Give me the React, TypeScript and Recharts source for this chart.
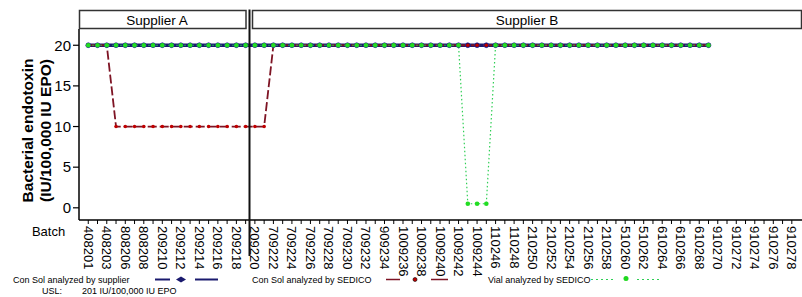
import { LineChart, Line, XAxis, YAxis } from 'recharts';

// batch ids along the x axis (one tick per batch, every 2nd labelled)
const batches = [
  '408201', '408202', '408203', '408204', '808206', '808207', '808208', '808209',
  '209210', '209211', '209212', '209213', '209214', '209215', '209216', '209217',
  '209218', '209219', '209220', '209221', '709222', '709223', '709224', '709225',
  '709226', '709227', '709228', '709229', '709230', '709231', '709232', '709233',
  '909234', '909235', '1009236', '1009237', '1009238', '1009239', '1009240', '1009241',
  '1009242', '1009243', '1009244', '1009245', '110246', '110247', '110248', '110249',
  '210250', '210251', '210252', '210253', '210254', '210255', '210256', '210257',
  '210258', '210259', '510260', '510261', '510262', '510263', '610264', '610265',
  '610266', '610267', '610268', '610269', '910270', '910271', '910272', '910273',
  '910274', '910275', '910276', '910277', '910278',
];

// Con Sol analyzed by supplier
const supplierValues = [
  20, 20, 20, 20, 20, 20, 20, 20, 20, 20,
  20, 20, 20, 20, 20, 20, 20, 20, 20, 20,
  20, 20, 20, 20, 20, 20, 20, 20, 20, 20,
  20, 20, 20, 20, 20, 20, 20, 20, 20, 20,
  20, 20, 20, 20, 20, 20, 20, 20, 20, 20,
  20, 20, 20, 20, 20, 20, 20, 20, 20, 20,
  20, 20, 20, 20, 20, 20, 20, 20,
];

// Con Sol analyzed by SEDICO
const sedicoValues = [
  20, 20, 20, 10, 10, 10, 10, 10, 10, 10,
  10, 10, 10, 10, 10, 10, 10, 10, 10, 10,
  20, 20, 20, 20, 20, 20, 20, 20, 20, 20,
  20, 20, 20, 20, 20, 20, 20, 20, 20, 20,
  20, 20, 20, 20, 20, 20, 20, 20, 20, 20,
  20, 20, 20, 20, 20, 20, 20, 20, 20, 20,
  20, 20, 20, 20, 20, 20, 20, 20,
];

// Vial analyzed by SEDICO
const vialValues = [
  20, 20, 20, 20, 20, 20, 20, 20, 20, 20,
  20, 20, 20, 20, 20, 20, 20, 20, 20, 20,
  20, 20, 20, 20, 20, 20, 20, 20, 20, 20,
  20, 20, 20, 20, 20, 20, 20, 20, 20, 20,
  20, 0.5, 0.5, 0.5, 20, 20, 20, 20, 20, 20,
  20, 20, 20, 20, 20, 20, 20, 20, 20, 20,
  20, 20, 20, 20, 20, 20, 20, 20,
];

const yTicks = [0, 5, 10, 15, 20];
const panels = ['Supplier A', 'Supplier B'];

const FONT = '"Liberation Sans", Arial, Helvetica, sans-serif';
const NAVY = '#1a1a6e';
const RED = '#7e1424';
const GREEN = '#2fcf55';

const data = batches.map((batch, i) => ({
  idx: i,
  batch,
  supplier: supplierValues[i] ?? null,
  sedico: sedicoValues[i] ?? null,
  vial: vialValues[i] ?? null,
}));

const xTicks = batches.map((_, i) => i);

function BatchTick({ x, y, payload }: any) {
  const i = payload.value;
  if (i % 2 !== 0) return <g />;
  return (
    <text
      x={x}
      y={y}
      transform={`rotate(90, ${x}, ${y})`}
      textAnchor="start"
      dominantBaseline="central"
      fontSize={13}
      fontFamily={FONT}
      fill="#000"
    >
      {batches[i]}
    </text>
  );
}

function Overlay() {
  return (
    <svg
      width={802}
      height={297}
      style={{ position: 'absolute', left: 0, top: 0, pointerEvents: 'none' }}
      fontFamily={FONT}
    >
      {/* strip headers */}
      <rect x={79.5} y={10.5} width={166.5} height={18} fill="#fff" stroke="#333" strokeWidth={1.5} />
      <rect x={252.5} y={10.5} width={549} height={18} fill="#fff" stroke="#333" strokeWidth={1.5} />
      <text x={157} y={20} textAnchor="middle" dominantBaseline="central" fontSize={13.5}>
        {panels[0]}
      </text>
      <text x={527} y={20} textAnchor="middle" dominantBaseline="central" fontSize={13.5}>
        {panels[1]}
      </text>
      {/* panel separator */}
      <line x1={249.5} x2={249.5} y1={9.5} y2={256} stroke="#111" strokeWidth={2} />

      {/* axis titles */}
      <text
        x={27}
        y={130.5}
        transform="rotate(-90, 27, 130.5)"
        textAnchor="middle"
        dominantBaseline="central"
        fontSize={15.5}
        fontWeight="bold"
      >
        Bacterial endotoxin
      </text>
      <text
        x={45}
        y={130.5}
        transform="rotate(-90, 45, 130.5)"
        textAnchor="middle"
        dominantBaseline="central"
        fontSize={15.5}
        fontWeight="bold"
      >
        (IU/100,000 IU EPO)
      </text>
      <text x={48.5} y={231} textAnchor="middle" dominantBaseline="central" fontSize={13}>
        Batch
      </text>

      {/* legend */}
      <g fontSize={9}>
        <text x={13} y={280} dominantBaseline="central">Con Sol analyzed by supplier</text>
        <line x1={155} x2={170} y1={279.5} y2={279.5} stroke={NAVY} strokeWidth={2} />
        <path d="M176,279.5 L181,276.5 L186,279.5 L181,282.5 Z" fill={NAVY} />
        <line x1={195} x2={218} y1={279.5} y2={279.5} stroke={NAVY} strokeWidth={2} />

        <text x={42} y={291} dominantBaseline="central">USL:</text>
        <text x={82} y={291} dominantBaseline="central">201 IU/100,000 IU EPO</text>

        <text x={252} y={280} dominantBaseline="central">Con Sol analyzed by SEDICO</text>
        <line x1={386} x2={400} y1={279.5} y2={279.5} stroke={RED} strokeWidth={1.5} />
        <circle cx={415} cy={279.5} r={2} fill="#c00000" stroke="#000" strokeWidth={0.6} />
        <line x1={431} x2={448} y1={279.5} y2={279.5} stroke={RED} strokeWidth={1.5} />

        <text x={488} y={280} dominantBaseline="central">Vial analyzed by SEDICO</text>
        <line x1={591} x2={613} y1={279.5} y2={279.5} stroke={GREEN} strokeWidth={1.2} strokeDasharray="2 3" />
        <circle cx={626} cy={278.5} r={2.5} fill="#1fd81f" />
        <line x1={637} x2={659} y1={279.5} y2={279.5} stroke={GREEN} strokeWidth={1.2} strokeDasharray="2 3" />
      </g>
    </svg>
  );
}

export default function App() {
  return (
    <div style={{ position: 'absolute', left: 0, top: 0, width: 802, height: 297, background: '#fff' }}>
      <LineChart
        width={802}
        height={297}
        data={data}
        margin={{ top: 29, right: 0, bottom: 17, left: 19 }}
      >
        <XAxis
          dataKey="idx"
          type="number"
          domain={[-1, 77.1]}
          ticks={xTicks}
          interval={0}
          tick={<BatchTick />}
          tickSize={4}
          height={60}
          axisLine={{ stroke: '#000', strokeWidth: 1.5 }}
          tickLine={{ stroke: '#000' }}
        />
        <YAxis
          type="number"
          domain={[-1.5, 22]}
          ticks={yTicks}
          width={60}
          tickSize={6}
          axisLine={{ stroke: '#000', strokeWidth: 1.5 }}
          tickLine={{ stroke: '#000', strokeWidth: 1.2 }}
          tick={{ fill: '#000', fontSize: 15, fontFamily: FONT }}
        />
        <Line
          dataKey="supplier"
          stroke={NAVY}
          strokeWidth={3.5}
          dot={{ r: 2.4, fill: '#0a0a30', stroke: '#2a2ab0', strokeWidth: 0.8 }}
          isAnimationActive={false}
        />
        <Line
          dataKey="sedico"
          stroke={RED}
          strokeWidth={1.8}
          strokeDasharray="9 3"
          dot={{ r: 1.8, fill: '#c00000', stroke: 'none' }}
          isAnimationActive={false}
        />
        <Line
          dataKey="vial"
          stroke={GREEN}
          strokeWidth={1.2}
          strokeDasharray="1.5 2.5"
          dot={{ r: 2.3, fill: '#22dd22', stroke: 'none' }}
          isAnimationActive={false}
        />
      </LineChart>
      <Overlay />
    </div>
  );
}
